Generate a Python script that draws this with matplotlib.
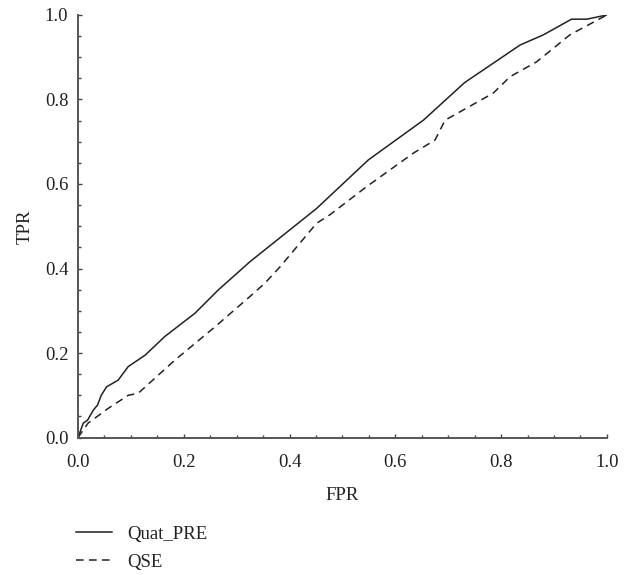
import matplotlib
matplotlib.use('Agg')
import matplotlib.pyplot as plt
from matplotlib.ticker import MultipleLocator

# ROC curves
quat_fpr = [0.0, 0.01, 0.018, 0.029, 0.037, 0.044, 0.054, 0.076, 0.095, 0.127, 0.164,
            0.221, 0.265, 0.325, 0.353, 0.451, 0.549, 0.653, 0.731, 0.836, 0.88, 0.933,
            0.962, 1.0]
quat_tpr = [0.0, 0.034, 0.041, 0.065, 0.077, 0.10, 0.12, 0.136, 0.168, 0.195, 0.239,
            0.294, 0.349, 0.416, 0.444, 0.542, 0.657, 0.751, 0.84, 0.929, 0.953, 0.99,
            0.99, 1.0]

qse_fpr = [0.0, 0.019, 0.057, 0.095, 0.114, 0.183, 0.259, 0.328, 0.353, 0.382, 0.451,
           0.476, 0.546, 0.634, 0.675, 0.694, 0.785, 0.817, 0.867, 0.93, 1.0]
qse_tpr = [0.0, 0.034, 0.069, 0.10, 0.105, 0.183, 0.262, 0.337, 0.365, 0.404, 0.507,
           0.527, 0.594, 0.673, 0.704, 0.751, 0.815, 0.854, 0.889, 0.953, 1.0]

labels = ['Quat_PRE', 'QSE']
ticks = [0.0, 0.2, 0.4, 0.6, 0.8, 1.0]

plt.rcParams['font.family'] = ['Liberation Serif', 'DejaVu Serif']
plt.rcParams['font.size'] = 13.5

fig = plt.figure(figsize=(6.35, 5.75), dpi=100)
ax = fig.add_axes([0.1228, 0.239, 0.833, 0.735])

ax.plot(quat_fpr, quat_tpr, color='#222222', lw=1.1, label=labels[0])
ax.plot(qse_fpr, qse_tpr, color='#222222', lw=1.1, linestyle=(0, (5, 3.5)), label=labels[1])

ax.set_xlim(0, 1)
ax.set_ylim(0, 1)
ax.set_xticks(ticks)
ax.set_yticks(ticks)
ax.set_xticklabels(['%.1f' % t for t in ticks])
ax.set_yticklabels(['%.1f' % t for t in ticks])
ax.xaxis.set_minor_locator(MultipleLocator(0.05))
ax.yaxis.set_minor_locator(MultipleLocator(0.05))

for side in ['top', 'right']:
    ax.spines[side].set_visible(False)
for side in ['left', 'bottom']:
    ax.spines[side].set_color('#555555')
    ax.spines[side].set_linewidth(1.4)

ax.tick_params(which='both', direction='in', color='#444444', width=1.0, labelcolor='#222222')
ax.tick_params(which='major', length=3.0)
ax.tick_params(which='minor', length=2.5)
ax.tick_params(axis='x', which='major', pad=12)
ax.tick_params(axis='y', which='major', pad=7)

ax.set_xlabel('FPR', color='#222222', labelpad=11)
ax.set_ylabel('TPR', color='#222222', labelpad=8)

ax.legend(loc='upper left', bbox_to_anchor=(-0.003, -0.208), frameon=False,
          handlelength=1.9, handletextpad=0.8, labelspacing=0.6, borderaxespad=0,
          borderpad=0, labelcolor='#222222')

fig.savefig('out.png', dpi=100)
